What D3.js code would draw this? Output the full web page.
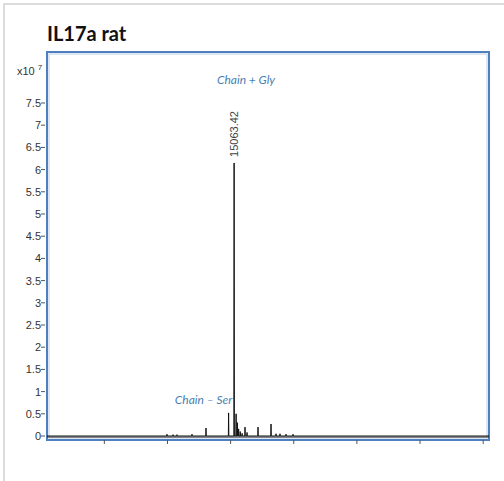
<!DOCTYPE html>
<html>
<head>
<meta charset="utf-8">
<script src="https://cdn.jsdelivr.net/npm/d3@7"></script>
<style>
  body { margin: 0; background: #fff; }
  svg { display: block; }
</style>
</head>
<body>
<svg width="504" height="481"></svg>
<script>
// spectrum peaks: mass (Da) and intensity (x10^7)
let peakMass = [14000, 14096, 14159, 14396, 14618, 14976, 15063.42, 15095, 15115, 15135, 15160, 15190, 15236, 15268, 15442, 15648, 15727, 15790, 15885, 15996];
let peakIntensity = [0.04, 0.03, 0.03, 0.04, 0.18, 0.52, 6.15, 0.5, 0.3, 0.16, 0.1, 0.06, 0.2, 0.08, 0.2, 0.27, 0.05, 0.05, 0.04, 0.04];
let yTicks = [0, 0.5, 1, 1.5, 2, 2.5, 3, 3.5, 4, 4.5, 5, 5.5, 6, 6.5, 7, 7.5];
let xTicks = [13000, 14000, 15000, 16000, 17000, 18000, 19000];
let annotations = [
  { text: "Chain + Gly", mass: 15252, y: 7.93 },
  { text: "Chain \u2013 Ser", mass: 14580, y: 0.73 }
];

let svg = d3.select('svg');
let pLeft = 47, pRight = 489, pTop = 52, pBottom = 438;

let x = d3.scaleLinear().domain([12100, 19100]).range([pLeft, pRight]);
let y = d3.scaleLinear().domain([0, 7.5]).range([436, 103]);

// outer grey border (top and left)
svg.append('path')
  .attr('d', 'M4,481 V4 H504')
  .attr('fill', 'none')
  .attr('stroke', '#dcdcdc')
  .attr('stroke-width', 2);

// title
svg.append('text')
  .attr('x', 47).attr('y', 41)
  .attr('font-family', 'Lato, sans-serif')
  .attr('font-weight', 'bold')
  .attr('font-size', 20)
  .attr('fill', '#111')
  .text('IL17a rat');

// multiplier label
let mult = svg.append('text')
  .attr('x', 17).attr('y', 75)
  .attr('font-family', 'Liberation Sans Narrow, Liberation Sans, sans-serif')
  .attr('font-size', 11)
  .attr('fill', '#333');
mult.append('tspan').text('x10 ');
mult.append('tspan').attr('dy', -5).attr('font-size', 8).text('7');

// frame
svg.append('rect')
  .attr('x', pLeft).attr('y', pTop)
  .attr('width', pRight - pLeft).attr('height', pBottom + 2 - pTop)
  .attr('fill', 'none')
  .attr('stroke', '#4f7fbd')
  .attr('stroke-width', 2);
svg.append('rect')
  .attr('x', pLeft + 2).attr('y', pTop + 2)
  .attr('width', pRight - pLeft - 4).attr('height', pBottom - 2 - pTop)
  .attr('fill', 'none')
  .attr('stroke', '#bcd0ea')
  .attr('stroke-width', 1);

// y axis ticks
let yAxis = svg.append('g');
yTicks.forEach(function (t) {
  yAxis.append('line')
    .attr('x1', 41).attr('x2', 45)
    .attr('y1', y(t)).attr('y2', y(t))
    .attr('stroke', '#555');
  yAxis.append('text')
    .attr('x', 41).attr('y', y(t) + 4)
    .attr('text-anchor', 'end')
    .attr('font-family', 'Liberation Sans Narrow, Liberation Sans, sans-serif')
    .attr('font-size', 11)
    .attr('fill', '#333')
    .text(t);
});

// x axis ticks (no labels)
svg.append('g')
  .attr('transform', 'translate(0,' + (pBottom + 2) + ')')
  .call(d3.axisBottom(x).tickValues(xTicks).tickSize(4).tickFormat(''))
  .call(function (g) {
    g.select('.domain').remove();
    g.selectAll('line').attr('stroke', '#555');
  });

// spectrum line
let pts = [[12100, 0]];
peakMass.forEach(function (m, i) {
  pts.push([m - 4, 0], [m, peakIntensity[i]], [m + 4, 0]);
});
pts.push([19100, 0]);
svg.append('path')
  .datum(pts)
  .attr('fill', 'none')
  .attr('stroke', '#111')
  .attr('stroke-width', 1)
  .attr('d', d3.line().x(function (d) { return x(d[0]); }).y(function (d) { return y(d[1]); }));

// baseline
svg.append('line')
  .attr('x1', pLeft).attr('x2', pRight)
  .attr('y1', 437).attr('y2', 437)
  .attr('stroke', '#222').attr('stroke-width', 1.2);

// peak label
svg.append('text')
  .attr('transform', 'translate(' + (x(15063.42) + 4) + ',' + (y(6.15) - 6) + ') rotate(-90)')
  .attr('font-family', 'Liberation Sans, sans-serif')
  .attr('font-size', 11)
  .attr('fill', '#444')
  .text('15063.42');

// annotations
svg.selectAll('text.ann')
  .data(annotations)
  .join('text')
  .attr('class', 'ann')
  .attr('x', function (d) { return x(d.mass); })
  .attr('y', function (d) { return y(d.y); })
  .attr('text-anchor', 'middle')
  .attr('font-family', 'Lato, sans-serif')
  .attr('font-style', 'italic')
  .attr('font-size', 12)
  .attr('fill', '#4a7fb5')
  .text(function (d) { return d.text; });
</script>
</body>
</html>
